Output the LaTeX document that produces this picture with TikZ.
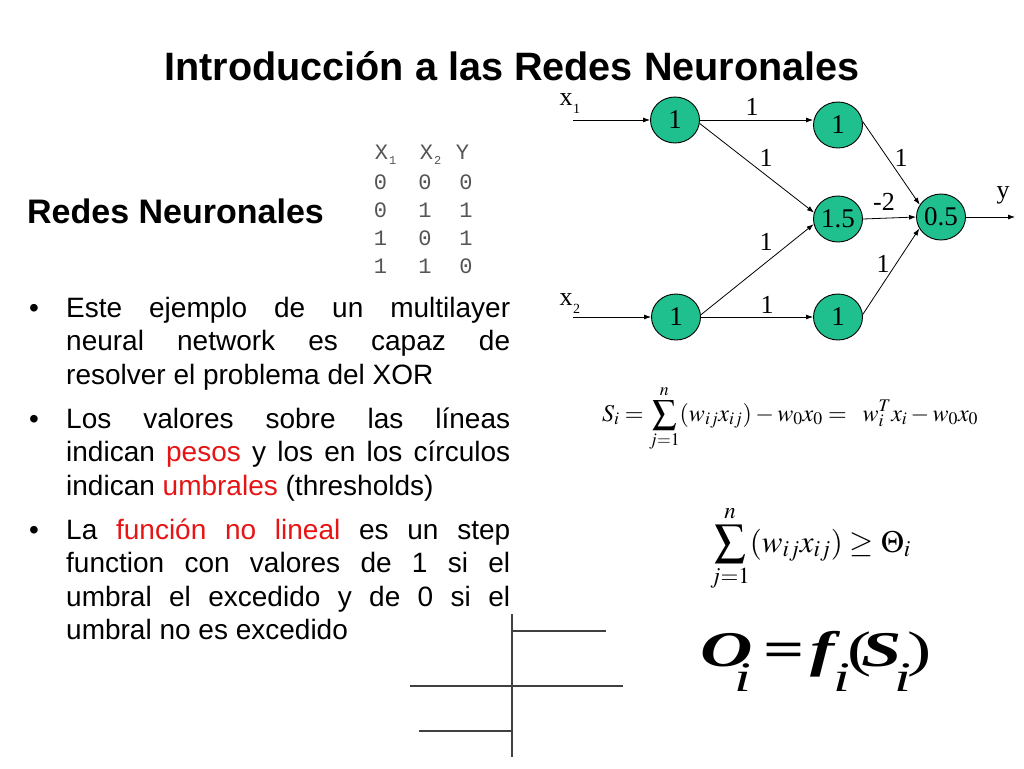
\documentclass[tikz,border=0pt]{standalone}
\usepackage{mathptmx}
\usepackage[no-math]{fontspec}
\setmainfont{Liberation Sans}
\newfontfamily\serifnet{Liberation Serif}
\newfontfamily\monotab{Liberation Mono}
\usetikzlibrary{arrows.meta,shapes.geometric}
\definecolor{nodegreen}{RGB}{32,192,142}
\definecolor{hl}{RGB}{230,20,20}
\definecolor{tabgray}{RGB}{85,85,85}
\tikzset{
  neuron/.style={ellipse, draw=black, line width=0.9pt, fill=nodegreen, minimum width=49pt, minimum height=46pt, inner sep=0pt, font=\serifnet\fontsize{27}{30}\selectfont},
  wlabel/.style={anchor=base, inner sep=0pt, font=\serifnet\fontsize{26}{30}\selectfont},
  conn/.style={line width=0.8pt, -{Latex[length=7pt,width=5pt]}},
  tabcell/.style={anchor=base, inner sep=0pt, text=tabgray, font=\monotab\fontsize{22}{26}\selectfont},
  tabsub/.style={anchor=base west, inner sep=0pt, text=tabgray, font=\monotab\fontsize{12}{14}\selectfont},
  stepline/.style={line width=1.2pt, draw=black!75},
  bigsym/.style={anchor=base west, inner sep=0pt, font=\serifnet\bfseries\fontsize{50}{54}\selectfont},
  bigpar/.style={anchor=base west, inner sep=0pt, font=\serifnet\fontsize{50}{54}\selectfont},
  bigsub/.style={anchor=base west, inner sep=0pt, font=\serifnet\itshape\fontsize{42}{46}\selectfont}
}
\newcommand{\hstretch}[1]{\scalebox{1.45}[1]{#1}}
\begin{document}
\begin{tikzpicture}[x=1pt,y=-1pt]
\useasboundingbox (0,0) rectangle (1024,768);
\fill[white] (0,0) rectangle (1024,768);

% title
\node[anchor=base, inner sep=0pt, font=\bfseries\fontsize{39.6}{44}\selectfont] (title) at (512,81) {Introducción a las Redes Neuronales};
\node[anchor=base west, inner sep=0pt, font=\bfseries\fontsize{34}{36}\selectfont] (sub) at (27,223) {Redes Neuronales};

% truth table
\node[tabcell] (h1) at (381.5,159) {X};
\node[tabsub] (h1s) at (389,164) {1};
\node[tabcell] (h2) at (426.5,159) {X};
\node[tabsub] (h2s) at (434,164) {2};
\node[tabcell] (h3) at (462.5,159) {Y};
\node[tabcell] (a1) at (380.5,189) {0};
\node[tabcell] (a2) at (425,189) {0};
\node[tabcell] (a3) at (466,189) {0};
\node[tabcell] (b1) at (380.5,217) {0};
\node[tabcell] (b2) at (425,217) {1};
\node[tabcell] (b3) at (466,217) {1};
\node[tabcell] (c1) at (380.5,245) {1};
\node[tabcell] (c2) at (425,245) {0};
\node[tabcell] (c3) at (466,245) {1};
\node[tabcell] (d1) at (380.5,273) {1};
\node[tabcell] (d2) at (425,273) {1};
\node[tabcell] (d3) at (466,273) {0};

% bullets
\node[anchor=north west, inner sep=0pt, text width=444pt, align=justify, font=\fontsize{28}{33.5}\selectfont] (bul) at (66,287) {%
\parindent=0pt\hyphenpenalty=10000\exhyphenpenalty=10000%
\leavevmode\rule{0pt}{30pt}\llap{\makebox[37pt][l]{•}}Este ejemplo de un multilayer\linebreak neural network es capaz de\linebreak resolver el problema del XOR\par
\vspace{10.5pt}%
\leavevmode\llap{\makebox[37pt][l]{•}}Los valores sobre las líneas\linebreak indican \textcolor{hl}{pesos} y los en los círculos\linebreak indican \textcolor{hl}{umbrales} (thresholds)\par
\vspace{10.5pt}%
\leavevmode\llap{\makebox[37pt][l]{•}}La \textcolor{hl}{función no lineal} es un step\linebreak function con valores de 1 si el\linebreak umbral el excedido y de 0 si el\linebreak umbral no es excedido\par};

% network
\node[neuron] (n1) at (675,120) {1};
\node[neuron] (n2) at (838,125) {1};
\node[neuron] (n3) at (838,219) {1.5};
\node[neuron] (n4) at (676,317) {1};
\node[neuron] (n5) at (838,317) {1};
\node[neuron] (out) at (941,217) {0.5};
\coordinate (in1) at (573,120);
\coordinate (in2) at (573,317);
\coordinate (yend) at (1015,217);

\draw[conn] (in1) -- (n1.west);
\draw[conn] (in2) -- (n4.west);
\draw[conn] (n1.east) -- (n2.west |- n1.east);
\draw[conn] (n1.-8) -- (n3.165);
\draw[conn] (n4.5) -- (n3.-168);
\draw[conn] (n4.east) -- (n5.west);
\draw[conn] (n2.8) -- (out.150);
\draw[conn] (n3.east) -- (out.west);
\draw[conn] (n5.6) -- (out.-152);
\draw[conn] (out.east) -- (yend);

\node[anchor=base, inner sep=0pt, font=\serifnet\fontsize{26}{30}\selectfont] (x1) at (566,105) {x};
\node[anchor=base west, inner sep=0pt, font=\serifnet\fontsize{14}{15}\selectfont] (x1s) at (573,113) {1};
\node[anchor=base, inner sep=0pt, font=\serifnet\fontsize{26}{30}\selectfont] (x2) at (566,305) {x};
\node[anchor=base west, inner sep=0pt, font=\serifnet\fontsize{14}{15}\selectfont] (x2s) at (573,313) {2};
\node[wlabel] (ylab) at (1003,198) {y};

\node[wlabel] (w12) at (752,115) {1};
\node[wlabel] (w13) at (766,166) {1};
\node[wlabel] (w43) at (766,250) {1};
\node[wlabel] (w45) at (767,313) {1};
\node[wlabel] (w2o) at (901,166) {1};
\node[wlabel] (w3o) at (884,210) {-2};
\node[wlabel] (w5o) at (883,272) {1};

% formulas
\node[anchor=base west, inner sep=0pt, font=\fontsize{24}{30}\selectfont] (f1) at (602,421)
  {$\displaystyle S_i=\sum_{j=1}^{n}(w_{ij}x_{ij})-w_0x_0=\;\;w_i^Tx_i-w_0x_0$};
\node[anchor=base west, inner sep=0pt, font=\fontsize{31}{34}\selectfont] (f2) at (710,552)
  {$\displaystyle \sum_{j=1}^{n}(w_{ij}x_{ij})\geq\Theta_i$};

% O_i = f_i(S_i)
\node[bigsym] (f3O) at (700,666) {\hstretch{\itshape O}};
\node[bigsub] (f3i1) at (734,691) {\hstretch{i}};
\node[bigsym] (f3eq) at (763,666) {\hstretch{=}};
\node[bigsym] (f3f) at (810,666) {\hstretch{\itshape f}};
\node[bigsub] (f3i2) at (833,691) {\hstretch{i}};
\node[bigpar] (f3lp) at (847,666) {\hstretch{(}};
\node[bigsym] (f3S) at (861,666) {\hstretch{\itshape S}};
\node[bigsub] (f3i3) at (894,691) {\hstretch{i}};
\node[bigpar] (f3rp) at (907,666) {\hstretch{)}};

% step function
\coordinate (sv1) at (512,614);
\coordinate (sv2) at (512,757);
\draw[stepline] (sv1) -- (sv2);
\draw[stepline] (512,631) -- (606,631);
\draw[stepline] (410,686) -- (623,686);
\draw[stepline] (419,731) -- (512,731);
\end{tikzpicture}
\end{document}
